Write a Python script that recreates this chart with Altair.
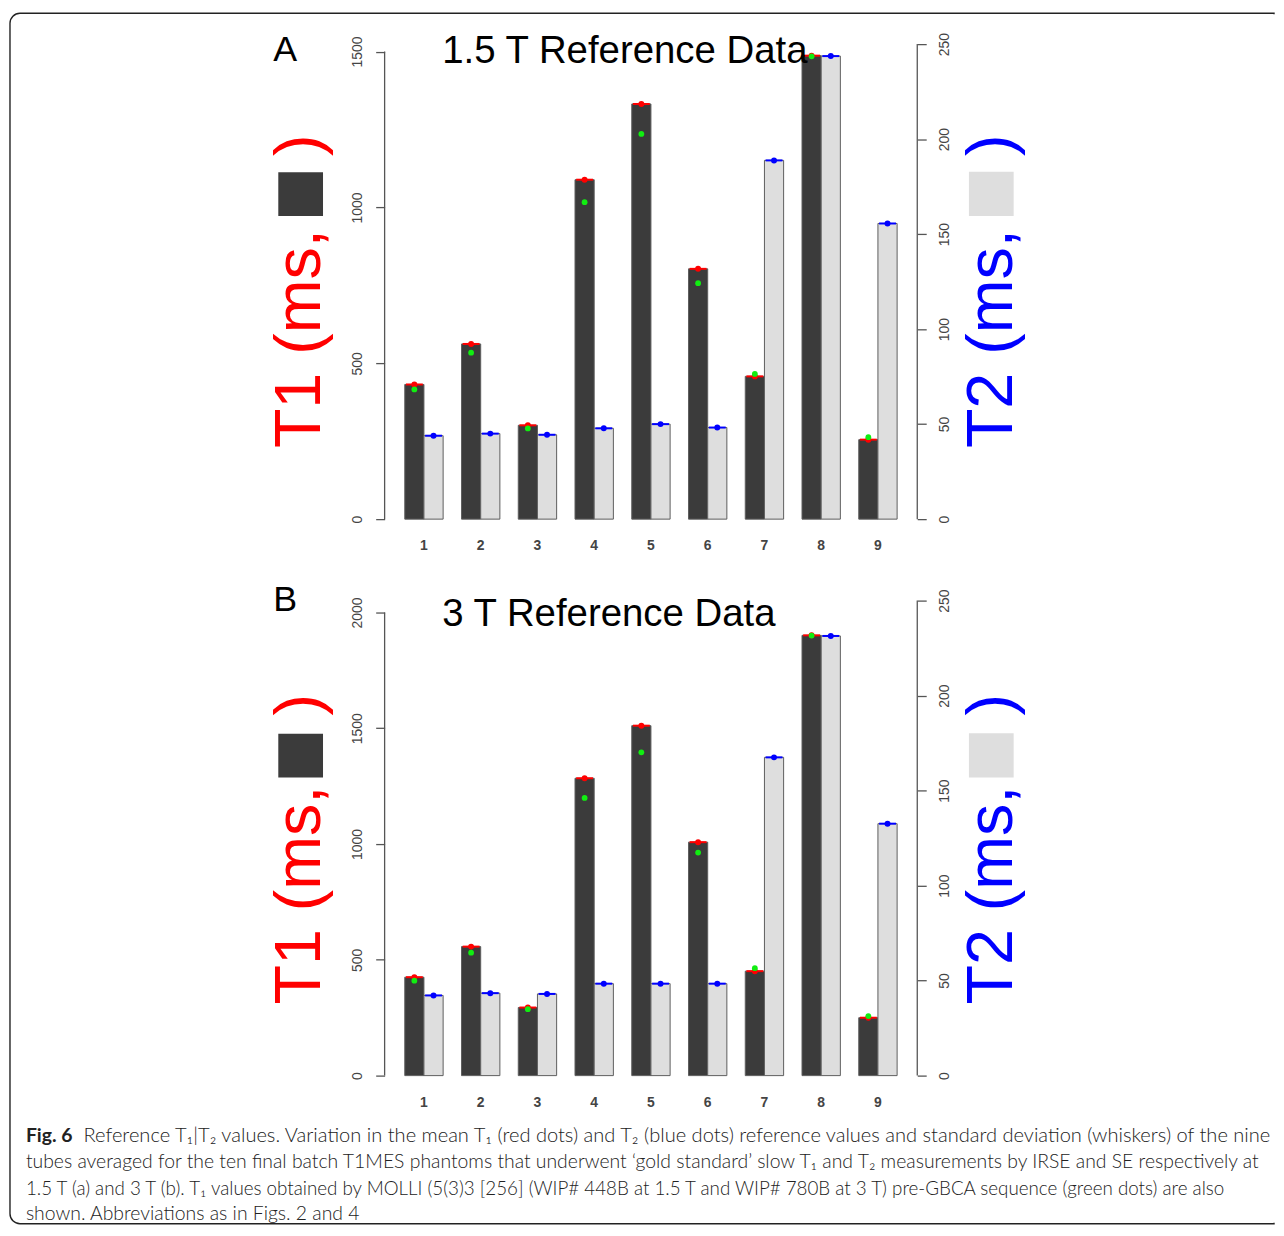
import altair as alt
import pandas as pd

# ---------------- data ----------------
tubes = [1, 2, 3, 4, 5, 6, 7, 8, 9]

# panel A : 1.5 T
t1_15 = [432, 562, 301, 1089, 1332, 803, 458, 1487, 255]
molli_15 = [416, 534, 291, 1017, 1236, 757, 466, 1485, 263]
t2_15 = [43.9, 45.0, 44.4, 47.8, 50.0, 48.2, 188.8, 243.7, 155.6]

# panel B : 3 T
t1_3 = [425, 557, 294, 1284, 1511, 1008, 451, 1901, 250]
molli_3 = [410, 531, 287, 1199, 1396, 963, 464, 1900, 257]
t2_3 = [42.2, 43.4, 43.0, 48.4, 48.4, 48.4, 167.5, 231.4, 132.6]

t1_ticks_15 = [0, 500, 1000, 1500]
t1_ticks_3 = [0, 500, 1000, 1500, 2000]
t2_ticks = [0, 50, 100, 150, 200, 250]

caption_line1_bold = "Fig. 6"
caption_line1 = ("Reference T\u2081|T\u2082 values. Variation in the mean T\u2081 (red dots) and T\u2082 "
                 "(blue dots) reference values and standard deviation (whiskers) of the nine")
caption_line2 = ("tubes averaged for the ten final batch T1MES phantoms that underwent \u2018gold standard\u2019 "
                 "slow T\u2081 and T\u2082 measurements by IRSE and SE respectively at")
caption_line3 = ("1.5 T (a) and 3 T (b). T\u2081 values obtained by MOLLI (5(3)3 [256] (WIP# 448B at 1.5 T "
                 "and WIP# 780B at 3 T) pre-GBCA sequence (green dots) are also")
caption_line4 = "shown. Abbreviations as in Figs. 2 and 4"

# ---------------- styling ----------------
W, H = 536, 478
DARK = "#3b3b3b"
LIGHT = "#dedede"
EDGE = "#5e5e5e"
AXC = "#555555"
FONT = "Liberation Sans"
CAPFONT = "Lato"

x_axis = alt.Axis(title=None, labelAngle=0, domain=False, ticks=False, grid=False,
                  labelPadding=20, labelFontSize=14, labelColor="#444444",
                  labelFont=FONT, labelFontWeight="bold")


def y_axis(orient, values):
    return alt.Axis(orient=orient, values=values, format="d", title=None, grid=False,
                    domain=False, tickSize=9, tickColor=AXC, tickWidth=1.3, labelFontSize=14,
                    labelColor="#444444", labelFont=FONT, labelAngle=270,
                    labelAlign="center", labelBaseline="bottom" if orient == "left" else "top",
                    labelPadding=11, labelOverlap=False)


def text_layer(s, x, y, size, color="black", angle=0, font=FONT, weight="normal",
               style="normal", align="left", baseline="alphabetic"):
    return alt.Chart(pd.DataFrame({"t": [s]})).mark_text(
        align=align, baseline=baseline, angle=angle, font=font, fontSize=size,
        fontWeight=weight, fontStyle=style, color=color
    ).encode(x=alt.value(x), y=alt.value(y), text="t:N")


def box_layer(x, x2, y, y2, **kw):
    return alt.Chart(pd.DataFrame({"a": [0]})).mark_rect(**kw).encode(
        x=alt.value(x), x2=alt.value(x2), y=alt.value(y), y2=alt.value(y2))


def panel(letter, title, t1, molli, t2, t1_ticks, t1_max, letter_y, title_y,
          sq_dy, par_dy, extra_left):
    d1 = pd.DataFrame({"tube": tubes, "series": ["T1"] * len(tubes), "value": t1, "molli": molli})
    d2 = pd.DataFrame({"tube": tubes, "series": ["T2"] * len(tubes), "value": t2})
    x = alt.X("tube:O", title=None,
              scale=alt.Scale(paddingInner=0.324, paddingOuter=0.355), axis=x_axis)
    xo = alt.XOffset("series:N", scale=alt.Scale(domain=["T1", "T2"], paddingInner=0, paddingOuter=0))

    sL = alt.Scale(domain=[0, t1_max], nice=False, zero=True)
    aL = y_axis("left", t1_ticks)
    sR = alt.Scale(domain=[0, t2_ticks[-1]], nice=False, zero=True)
    aR = y_axis("right", t2_ticks)

    def yL(f):
        return alt.Y(f, title=None, scale=sL, axis=aL)

    def yR(f):
        return alt.Y(f, title=None, scale=sR, axis=aR)

    b1 = alt.Chart(d1).encode(x=x, xOffset=xo)
    bars1 = b1.mark_bar(fill=DARK, stroke=EDGE, strokeWidth=1).encode(y=yL("value:Q"))
    tick1 = b1.mark_tick(color="#ff0000", thickness=2, size=17, opacity=1).encode(y=yL("value:Q"))
    dot1 = b1.mark_circle(color="#ff0000", size=36, opacity=1).encode(y=yL("value:Q"))
    green = b1.mark_circle(color="#11ee11", size=34, opacity=1).encode(y=yL("molli:Q"))
    rule1 = alt.Chart(pd.DataFrame({"lo": [t1_ticks[0]], "hi": [t1_ticks[-1]]})).mark_rule(
        color=AXC, strokeWidth=1.3).encode(x=alt.value(0), y=yL("lo:Q"), y2="hi:Q")

    b2 = alt.Chart(d2).encode(x=x, xOffset=xo)
    bars2 = b2.mark_bar(fill=LIGHT, stroke=EDGE, strokeWidth=1).encode(y=yR("value:Q"))
    tick2 = b2.mark_tick(color="#0000ff", thickness=2, size=17, opacity=1).encode(y=yR("value:Q"))
    dot2 = b2.mark_circle(color="#0000ff", size=36, opacity=1).encode(y=yR("value:Q"))
    rule2 = alt.Chart(pd.DataFrame({"lo": [t2_ticks[0]], "hi": [t2_ticks[-1]]})).mark_rule(
        color=AXC, strokeWidth=1.3).encode(x=alt.value(W), y=yR("lo:Q"), y2="hi:Q")

    left_annot = [
        text_layer(letter, -112, letter_y, 36),
        text_layer(title, 58, title_y, 38.6),
        text_layer("T1 (ms,", -65, 406.5, 65, color="#ff0000", angle=270),
        box_layer(-107, -62, 129 + sq_dy, 173 + sq_dy, fill=DARK),
        text_layer(")", -65, 112.6 + par_dy, 65, color="#ff0000", angle=270),
    ]
    right_annot = [
        text_layer("T2 (ms,", 631, 406.5, 65, color="#0000ff", angle=270),
        box_layer(588, 633, 128.5 + sq_dy, 173 + sq_dy, fill=LIGHT),
        text_layer(")", 631, 112.6 + par_dy, 65, color="#0000ff", angle=270),
    ]

    left = alt.layer(*extra_left, bars1, tick1, dot1, green, rule1, *left_annot)
    right = alt.layer(bars2, tick2, dot2, rule2, *right_annot)
    return alt.layer(left, right).resolve_scale(y="independent").properties(width=W, height=H)


# figure frame: rounded on the left, running off the right edge
frame = [
    box_layer(-377, 895, -31, 1187, fillOpacity=0, stroke="#222222", strokeWidth=1.4,
              cornerRadiusTopLeft=10, cornerRadiusBottomLeft=10),
    alt.Chart(pd.DataFrame({"a": [0]})).mark_rule(color="white", strokeWidth=2.4).encode(
        x=alt.value(895), y=alt.value(-30), y2=alt.value(1186)),
]

cap_x = -361
CAPC = "#222222"
caption = [
    text_layer(caption_line1_bold, cap_x, 544.8, 19.5, color=CAPC, font=CAPFONT, weight="bold"),
    text_layer(caption_line1, cap_x + 58, 544.8, 20.2, color=CAPC, font=CAPFONT, weight=300),
    text_layer(caption_line2, cap_x, 571.3, 19.5, color=CAPC, font=CAPFONT, weight=300),
    text_layer(caption_line3, cap_x, 597.8, 18.9, color=CAPC, font=CAPFONT, weight=300),
    text_layer(caption_line4, cap_x, 623.3, 19.5, color=CAPC, font=CAPFONT, weight=300),
]

pA = panel("A", "1.5 T Reference Data", t1_15, molli_15, t2_15, t1_ticks_15, 1524,
           16.5, 19, 0, 0, frame)
pB = panel("B", "3 T Reference Data", t1_3, molli_3, t2_3, t1_ticks_3, 2051,
           10.5, 25.6, 5, 3, caption)

chart = alt.vconcat(pA, pB, spacing=82, bounds="flush").properties(
    padding={"left": 1, "top": 0.5, "right": 0, "bottom": 0},
    background="white",
).configure_view(stroke=None)

chart.save("out.html", embed_options={"renderer": "svg", "actions": False})
